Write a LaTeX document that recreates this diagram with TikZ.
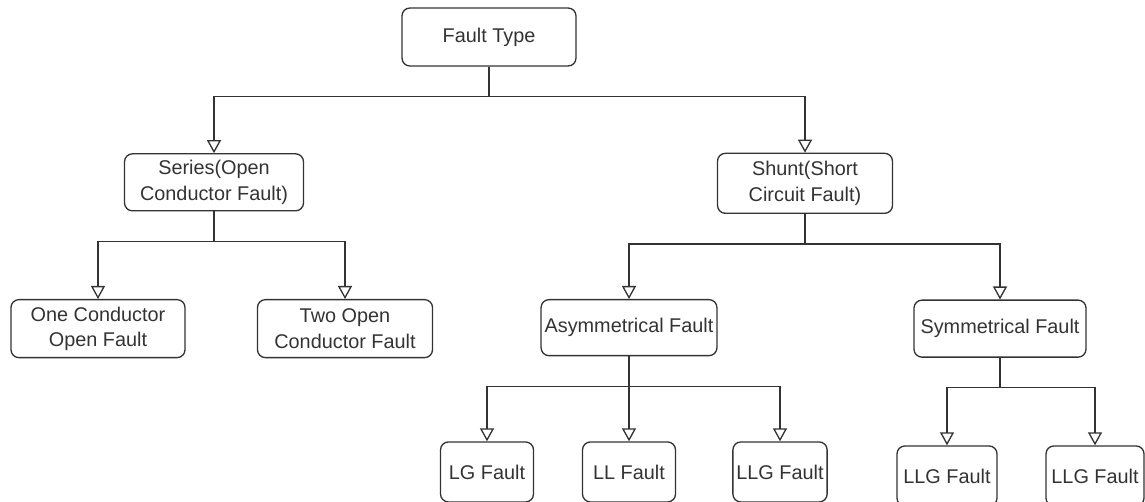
\documentclass[tikz,border=0pt]{standalone}
\usepackage{fontspec}
\setmainfont{Liberation Sans}
\usepackage{tikz}
\usetikzlibrary{arrows.meta, positioning}
\usepackage{xcolor}
\definecolor{inkgray}{HTML}{333333}
\tikzset{
  mainbox/.style={rectangle, draw=inkgray, line width=0.75pt, rounded corners=4.5pt,
    minimum height=1.16cm, minimum width=3.48cm, align=center, inner sep=2pt,
    text=inkgray, font=\fontsize{11.3}{14.5}\selectfont},
  leafbox/.style={mainbox, minimum height=1.2cm, minimum width=1.86cm},
  arr/.style={-{Triangle[open, length=2.6mm, width=2.8mm]}, draw=inkgray, line width=0.75pt},
}

\begin{document}
\begin{tikzpicture}
  \useasboundingbox (0,0) rectangle (22.9,-10.02);

  % Root
  \node[mainbox] (ftype) at (9.78,-0.74) {Fault Type};

  % Second row
  \node[mainbox, minimum width=3.58cm, minimum height=1.14cm, below=1.73cm of ftype, xshift=-5.5cm] (series) {Series(Open\\Conductor Fault)};
  \node[mainbox, minimum width=3.5cm, minimum height=1.2cm, below=1.72cm of ftype, xshift=6.32cm] (shunt) {Shunt(Short\\Circuit Fault)};

  % Third row
  \node[mainbox, below=1.75cm of series, xshift=-2.32cm] (onecond) {One Conductor\\Open Fault};
  \node[mainbox, minimum width=3.5cm, below=1.75cm of series, xshift=2.62cm] (twoopen) {Two Open\\Conductor Fault};
  \node[mainbox, minimum width=3.3cm, minimum height=1.12cm, below=1.70cm of shunt, xshift=-3.52cm] (asym) {Asymmetrical Fault};
  \node[mainbox, minimum width=3.44cm, minimum height=1.14cm, below=1.71cm of shunt, xshift=3.9cm] (sym) {Symmetrical Fault};

  % Bottom row
  \node[leafbox, below=1.70cm of asym, xshift=-2.84cm] (lg) {LG Fault};
  \node[leafbox, below=1.70cm of asym] (ll) {LL Fault};
  \node[leafbox, below=1.70cm of asym, xshift=3.02cm] (llgA) {LLG Fault};
  \node[leafbox, minimum width=2.0cm, below=1.75cm of sym, xshift=-1.06cm] (llgB) {LLG Fault};
  \node[leafbox, minimum width=1.96cm, below=1.75cm of sym, xshift=1.9cm] (llgC) {LLG Fault};

  % Connections
  \foreach \src/\dst in {ftype/series, ftype/shunt, series/onecond, series/twoopen,
      shunt/asym, shunt/sym, asym/lg, asym/ll, asym/llgA, sym/llgB, sym/llgC}
    \draw[arr] (\src.south) -- ++(0,-0.6) -| (\dst.north);
\end{tikzpicture}
\end{document}
